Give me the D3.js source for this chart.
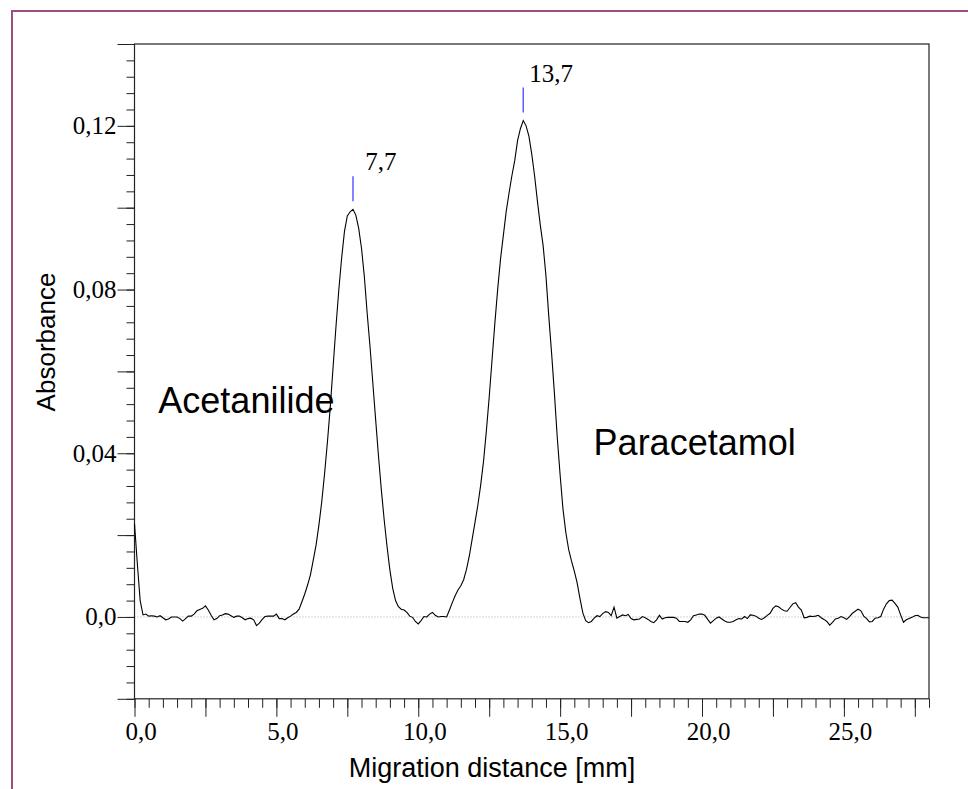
<!DOCTYPE html>
<html>
<head>
<meta charset="utf-8">
<script src="https://cdn.jsdelivr.net/npm/d3@7"></script>
<style>
body { margin: 0; background: #fff; }
</style>
</head>
<body>
<div id="chart"></div>
<script>
// scan data: absorbance every 0.1 mm, from 0.0 to 28.0 mm
var startMm = 0.0;
var stepMm = 0.1;
var absorbance = [
  0.0228, 0.0130, 0.0040, 0.0005, 0.0007, 0.0002, 0.0003, 0.0002, 0.0000, 0.0003,
  -0.0002, -0.0007, -0.0005, 0.0000, 0.0000, 0.0000, -0.0004, -0.0010, -0.0004, 0.0002,
  0.0002, 0.0007, 0.0015, 0.0018, 0.0021, 0.0027, 0.0017, 0.0004, -0.0007, -0.0004,
  0.0003, 0.0005, 0.0008, 0.0007, 0.0003, -0.0001, 0.0002, 0.0002, -0.0002, -0.0007,
  -0.0004, -0.0003, -0.0007, -0.0021, -0.0015, -0.0006, 0.0001, 0.0002, 0.0002, 0.0002,
  0.0007, -0.0004, -0.0004, -0.0007, -0.0002, 0.0002, 0.0007, 0.0011, 0.0019, 0.0037,
  0.0056, 0.0078, 0.0103, 0.0139, 0.0176, 0.0225, 0.0282, 0.0351, 0.0428, 0.0514,
  0.0612, 0.0709, 0.0799, 0.0877, 0.0942, 0.0980, 0.0990, 0.0996, 0.0982, 0.0950,
  0.0901, 0.0832, 0.0742, 0.0661, 0.0571, 0.0481, 0.0392, 0.0310, 0.0237, 0.0172,
  0.0115, 0.0070, 0.0040, 0.0025, 0.0019, 0.0017, 0.0011, 0.0002, -0.0001, -0.0011,
  -0.0017, -0.0009, 0.0001, 0.0000, 0.0007, 0.0011, 0.0004, 0.0000, 0.0001, 0.0001,
  0.0000, 0.0017, 0.0035, 0.0052, 0.0066, 0.0076, 0.0091, 0.0116, 0.0149, 0.0190,
  0.0231, 0.0273, 0.0322, 0.0380, 0.0454, 0.0537, 0.0628, 0.0718, 0.0801, 0.0875,
  0.0933, 0.0991, 0.1036, 0.1078, 0.1115, 0.1164, 0.1193, 0.1213, 0.1200, 0.1175,
  0.1131, 0.1078, 0.1016, 0.0958, 0.0908, 0.0834, 0.0735, 0.0644, 0.0545, 0.0438,
  0.0347, 0.0264, 0.0207, 0.0165, 0.0137, 0.0112, 0.0083, 0.0045, 0.0010, -0.0009,
  -0.0014, -0.0011, -0.0003, 0.0003, 0.0001, 0.0008, 0.0013, 0.0011, 0.0003, 0.0024,
  -0.0003, 0.0001, 0.0005, 0.0003, 0.0006, -0.0004, -0.0007, -0.0006, -0.0005, 0.0001,
  -0.0002, -0.0006, -0.0011, -0.0014, -0.0007, 0.0004, -0.0005, -0.0002, -0.0001, -0.0001,
  -0.0001, -0.0003, -0.0011, -0.0011, -0.0011, -0.0013, -0.0007, 0.0003, 0.0005, 0.0007,
  0.0007, 0.0004, -0.0006, -0.0015, -0.0009, -0.0003, 0.0000, -0.0005, -0.0010, -0.0013,
  -0.0013, -0.0011, -0.0007, -0.0004, -0.0005, 0.0001, -0.0004, 0.0005, 0.0004, 0.0002,
  -0.0003, -0.0006, -0.0002, 0.0004, 0.0009, 0.0021, 0.0027, 0.0025, 0.0019, 0.0015,
  0.0014, 0.0023, 0.0032, 0.0035, 0.0024, 0.0017, -0.0002, -0.0001, 0.0002, 0.0001,
  0.0002, 0.0004, -0.0002, -0.0006, -0.0011, -0.0020, -0.0013, -0.0005, -0.0003, 0.0001,
  -0.0002, -0.0006, 0.0001, 0.0009, 0.0014, 0.0019, 0.0015, 0.0002, -0.0004, -0.0012,
  -0.0011, -0.0003, -0.0002, 0.0001, 0.0019, 0.0032, 0.0040, 0.0041, 0.0033, 0.0024,
  0.0005, -0.0013, -0.0007, -0.0004, -0.0001, 0.0003, 0.0004, 0.0000, -0.0002, -0.0002,
  -0.0002
];

var peakPositions = [7.7, 13.7];
var peakLabels = ["7,7", "13,7"];
var compoundNames = ["Acetanilide", "Paracetamol"];

var width = 968, height = 789;
var serif = "'Liberation Serif', 'Times New Roman', serif";
var sans = "'Liberation Sans', Arial, sans-serif";

var svg = d3.select("#chart").append("svg")
    .attr("width", width)
    .attr("height", height);

svg.append("rect").attr("width", width).attr("height", height).attr("fill", "#fff");

// outer frame, runs off the page on the right and bottom
svg.append("rect")
    .attr("x", 12).attr("y", 11)
    .attr("width", 1000).attr("height", 1000)
    .attr("fill", "none")
    .attr("stroke", "#a24c7e")
    .attr("stroke-width", 2);

var x = d3.scaleLinear().domain([0, 28]).range([134.5, 929]);
var y = d3.scaleLinear().domain([-0.02, 0.14]).range([698.8, 44]);

// zero line
svg.append("line")
    .attr("x1", x(0)).attr("x2", x(28))
    .attr("y1", y(0)).attr("y2", y(0))
    .attr("stroke", "#aaa")
    .attr("stroke-width", 1)
    .attr("stroke-dasharray", "1,2");

// y axis: minor ticks every 0.004, long ones every 0.02, labels every 0.04
var yTicks = d3.range(-5, 36).map(function(i) { return i * 0.004; });
var yMajor = yTicks.filter(function(v) { return Math.round(v * 1000) % 20 === 0; });

var yMinorAxis = svg.append("g")
    .attr("transform", "translate(" + x(0) + ",0)")
    .call(d3.axisLeft(y).tickValues(yTicks).tickSize(8).tickSizeOuter(0).tickFormat(""));
var yMajorAxis = svg.append("g")
    .attr("transform", "translate(" + x(0) + ",0)")
    .call(d3.axisLeft(y).tickValues(yMajor).tickSize(17).tickSizeOuter(0).tickPadding(1)
        .tickFormat(function(v) {
            if (Math.round(v * 1000) % 40 !== 0 || v < 0 || v > 0.13) return "";
            return v === 0 ? "0,0" : v.toFixed(2).replace(".", ",");
        }));

// x axis: minor ticks every 0.5 mm, long ones every 2.5 mm, labels every 5 mm
var xTicks = d3.range(0, 57).map(function(i) { return i * 0.5; });
var xMajor = xTicks.filter(function(v) { return (v * 10) % 25 === 0; });

var xMinorAxis = svg.append("g")
    .attr("transform", "translate(0," + y(-0.02) + ")")
    .call(d3.axisBottom(x).tickValues(xTicks).tickSize(9).tickSizeOuter(0).tickFormat(""));
var xMajorAxis = svg.append("g")
    .attr("transform", "translate(0," + y(-0.02) + ")")
    .call(d3.axisBottom(x).tickValues(xMajor).tickSize(18).tickSizeOuter(0).tickPadding(5)
        .tickFormat(function(v) {
            return (v * 10) % 50 === 0 ? v.toFixed(1).replace(".", ",") : "";
        }));

svg.selectAll(".domain").remove();
svg.selectAll(".tick line").attr("stroke", "#222");

yMajorAxis.selectAll("text")
    .attr("font-family", serif).attr("font-size", "25px").attr("fill", "#000");
xMajorAxis.selectAll("text")
    .attr("font-family", serif).attr("font-size", "25px").attr("fill", "#000")
    .attr("dx", 6);

// plot frame
svg.append("rect")
    .attr("x", x(0)).attr("y", y(0.14))
    .attr("width", x(28) - x(0))
    .attr("height", y(-0.02) - y(0.14))
    .attr("fill", "none")
    .attr("stroke", "#222")
    .attr("stroke-width", 1.2);

// trace
var line = d3.line()
    .x(function(d, i) { return x(startMm + i * stepMm); })
    .y(function(d) { return y(d); });

svg.append("path")
    .datum(absorbance)
    .attr("d", line)
    .attr("fill", "none")
    .attr("stroke", "#000")
    .attr("stroke-width", 1.1);

// peak marks
peakPositions.forEach(function(p, k) {
    var h = absorbance[Math.round((p - startMm) / stepMm)];
    svg.append("line")
        .attr("x1", x(p)).attr("x2", x(p))
        .attr("y1", y(h) - 8).attr("y2", y(h) - 33)
        .attr("stroke", "#5c5cff")
        .attr("stroke-width", 1.5);
    svg.append("text")
        .attr("x", x(p) + 28)
        .attr("y", y(h) - 39)
        .attr("text-anchor", "middle")
        .attr("font-family", serif)
        .attr("font-size", "25px")
        .text(peakLabels[k]);
});

// compound names
svg.append("text")
    .attr("x", x(0.84)).attr("y", y(0.0499))
    .attr("font-family", sans).attr("font-size", "36px")
    .text(compoundNames[0]);
svg.append("text")
    .attr("x", x(16.18)).attr("y", y(0.0396))
    .attr("font-family", sans).attr("font-size", "36px")
    .text(compoundNames[1]);

// axis titles
svg.append("text")
    .attr("x", 492)
    .attr("y", 777)
    .attr("text-anchor", "middle")
    .attr("font-family", sans).attr("font-size", "27px")
    .text("Migration distance [mm]");

svg.append("text")
    .attr("transform", "translate(55,342) rotate(-90)")
    .attr("text-anchor", "middle")
    .attr("font-family", sans).attr("font-size", "26px")
    .text("Absorbance");
</script>
</body>
</html>
